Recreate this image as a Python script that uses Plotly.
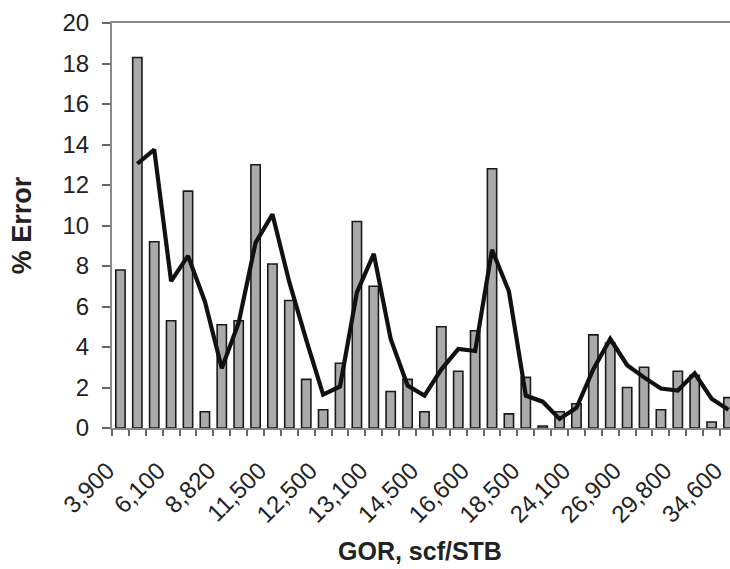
import plotly.graph_objects as go
import pandas as pd

# Percent error for each GOR sample, in order of increasing GOR
error_pct = [7.8, 18.3, 9.2, 5.3, 11.7, 0.8, 5.1, 5.3, 13.0, 8.1, 6.3, 2.4, 0.9,
             3.2, 10.2, 7.0, 1.8, 2.4, 0.8, 5.0, 2.8, 4.8, 12.8, 0.7, 2.5, 0.1,
             0.8, 1.2, 4.6, 4.2, 2.0, 3.0, 0.9, 2.8, 2.6, 0.3, 1.5]

# GOR labels shown on every third sample
gor_labels = ["3,900", "6,100", "8,820", "11,500", "12,500", "13,100", "14,500",
              "16,600", "18,500", "24,100", "26,900", "29,800", "34,600"]
label_step = 3

x_title = "GOR, scf/STB"
y_title = "% Error"

idx = list(range(len(error_pct)))
# 2-period moving-average trendline of the error series
trend = pd.Series(error_pct).rolling(2).mean()

font_family = "Liberation Sans, Arial, sans-serif"
text_color = "#222222"

fig = go.Figure()
fig.add_trace(go.Bar(
    x=idx, y=error_pct, width=0.55,
    marker=dict(color="#aaaaaa", line=dict(color="#1a1a1a", width=1.6)),
    showlegend=False,
))
fig.add_trace(go.Scatter(
    x=idx[1:], y=trend[1:].tolist(), mode="lines",
    line=dict(color="#111111", width=4.2),
    showlegend=False,
))

fig.update_layout(
    width=730, height=569,
    margin=dict(l=112, r=0, t=23, b=141),
    paper_bgcolor="white", plot_bgcolor="white",
    font=dict(family=font_family, color=text_color),
    annotations=[
        dict(text=f"<b>{x_title}</b>", xref="paper", yref="paper",
             x=0.499, y=-0.303, xanchor="center", yanchor="middle",
             showarrow=False, font=dict(size=25, color=text_color)),
        dict(text=f"<b>{y_title}</b>", xref="paper", yref="paper",
             x=-0.146, y=0.5, xanchor="center", yanchor="middle",
             textangle=-90, showarrow=False,
             font=dict(size=27, color=text_color)),
    ],
)
fig.update_xaxes(
    range=[-0.5, 36.09],
    tickmode="array",
    tickvals=idx[::label_step],
    ticktext=gor_labels,
    tickangle=-45,
    ticks="",
    ticklabeloverflow="allow",
    ticklabelshift=-13,
    ticklabelstandoff=17,
    tickfont=dict(size=24, color=text_color),
    showgrid=False, zeroline=False,
    showline=True, linecolor="#8a8a8a", linewidth=2, mirror=True,
    minor=dict(ticks="outside", tick0=-0.5, dtick=1, ticklen=6,
               tickcolor="#666666", tickwidth=1.5, showgrid=False),
)
fig.update_yaxes(
    range=[0, 20], dtick=2,
    ticks="outside", ticklen=8, tickcolor="#666666", tickwidth=1.5,
    ticklabelstandoff=8,
    tickfont=dict(size=24, color=text_color),
    showgrid=False, zeroline=False,
    showline=True, linecolor="#8a8a8a", linewidth=2,
)

fig.write_html("out.html")
